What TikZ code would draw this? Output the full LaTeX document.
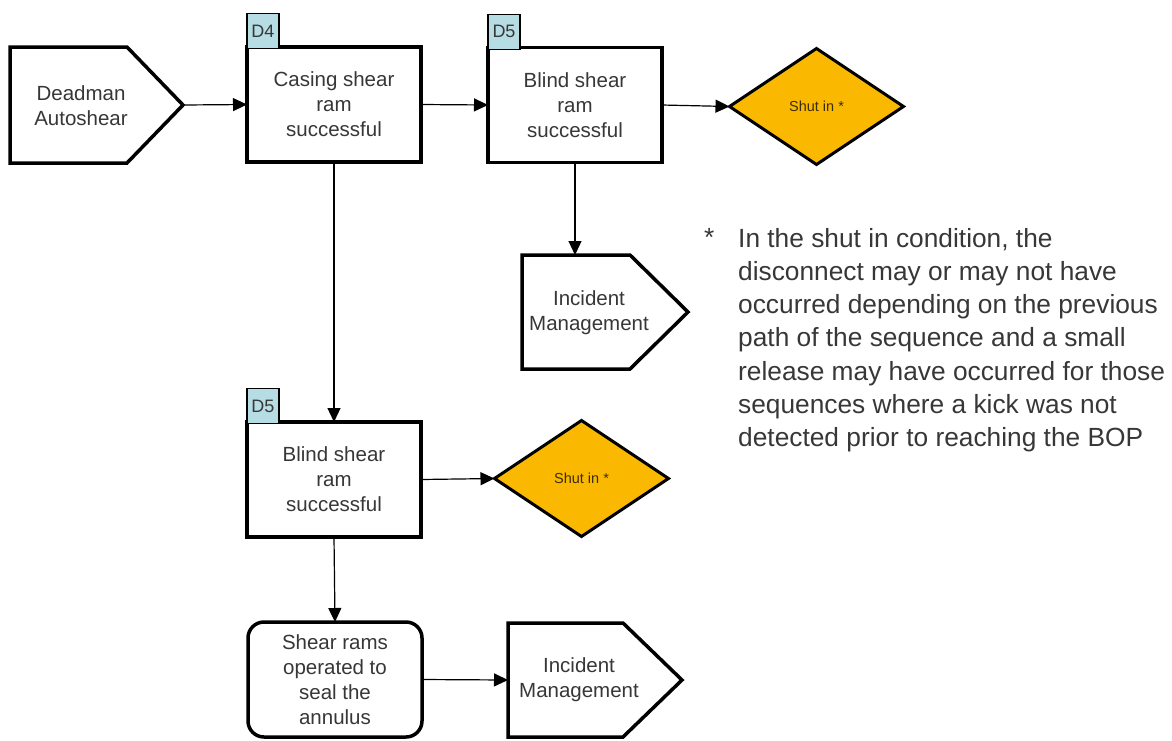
\documentclass[tikz,border=0pt]{standalone}
\usepackage{fontspec}
\setmainfont{Liberation Sans}
\usetikzlibrary{arrows.meta,shapes.geometric}

\definecolor{tagblue}{RGB}{183,221,228}
\definecolor{shutfill}{RGB}{250,185,0}
\definecolor{inktext}{RGB}{55,55,55}
\definecolor{shuttext}{RGB}{60,45,10}

\newcommand\flowfont{\fontsize{20.5}{25}\selectfont}
\newcommand\tagfont{\fontsize{18}{20}\selectfont}
\newcommand\shutfont{\fontsize{14.5}{16}\selectfont}
\newcommand\notefont{\fontsize{26.3}{33.2}\selectfont}

\tikzset{
  outline/.style={draw, line width=3.5pt, line join=miter, fill=white},
  stepbox/.style={outline, minimum width=174pt, minimum height=115pt,
    inner sep=0pt, outer sep=0pt, align=center, font=\flowfont, text=inktext},
  roundbox/.style={stepbox, rounded corners=16pt},
  flowtext/.style={inner sep=0pt, align=center, font=\flowfont, text=inktext},
  tagbox/.style={draw, line width=1.4pt, fill=tagblue, minimum width=32pt,
    minimum height=35pt, inner sep=0pt, outer sep=0pt, font=\tagfont, text=inktext},
  shutin/.style={diamond, draw, line width=3pt, fill=shutfill, minimum width=174pt,
    minimum height=116pt, inner sep=0pt, outer sep=0pt, font=\shutfont, text=shuttext},
  flow/.style={draw, line width=1.2pt, -{Triangle[length=14pt,width=13pt]}},
  notetext/.style={inner sep=0pt, align=left, font=\notefont, text=inktext}
}

\begin{document}
\begin{tikzpicture}[x=1pt,y=-1pt]
\useasboundingbox (0,0) rectangle (1172,740);

% start event
\draw[outline] (10,47) -- (127,47) -- (183,105) -- (127,163) -- (10,163) -- cycle;
\coordinate (deadtip) at (183,105);
\node[flowtext] (dead) at (81,106) {Deadman\\Autoshear};

% decision D4
\node[stepbox] (casing) at (334,104.5) {Casing shear\\ram\\successful};
\node[tagbox, anchor=south west] (tagA) at ([yshift=-1.75pt]casing.north west) {D4};

% decision D5 (upper branch)
\node[stepbox] (blindA) at (575,105) {Blind shear\\ram\\successful};
\node[tagbox, anchor=south west] (tagB) at ([yshift=-1.75pt]blindA.north west) {D5};

\node[shutin] (shutA) at (816.5,106.5) {Shut in *};

% incident management (upper branch)
\draw[outline] (522,255) -- (630,255) -- (688,312) -- (630,369) -- (522,369) -- cycle;
\coordinate (incAtop) at (575,255);
\node[flowtext] (incA) at (589,313) {Incident\\Management};

% decision D5 (lower branch)
\node[stepbox] (blindB) at (334,479.5) {Blind shear\\ram\\successful};
\node[tagbox, anchor=south west] (tagC) at ([yshift=-1.75pt]blindB.north west) {D5};

\node[shutin] (shutB) at (581.5,478.5) {Shut in *};

% final step
\node[roundbox] (seal) at (335,679.5) {Shear rams\\operated to\\seal the\\annulus};

\draw[outline] (508,623) -- (623,623) -- (682,680) -- (623,737) -- (508,737) -- cycle;
\coordinate (incBleft) at (508,680);
\node[flowtext] (incB) at (579,680) {Incident\\Management};

% connectors
\draw[flow] (deadtip) -- (casing.west);
\draw[flow] (casing.east) -- (blindA.west);
\draw[flow] (blindA.east) -- (shutA.west);
\draw[flow] (blindA.south) -- (incAtop);
\draw[flow] (casing.south) -- (blindB.north);
\draw[flow] (blindB.east) -- (shutB.west);
\draw[flow] (blindB.south) -- (seal.north);
\draw[flow] (seal.east) -- (incBleft);

% footnote
\node[inner sep=0pt, anchor=base west, font=\notefont, text=inktext] (star) at (704,246) {*};
\node[notetext, anchor=north west] (note) at (738,228) {In the shut in condition, the\\
disconnect may or may not have\\
occurred depending on the previous\\
path of the sequence and a small\\
release may have occurred for those\\
sequences where a kick was not\\
detected prior to reaching the BOP};
\end{tikzpicture}
\end{document}
